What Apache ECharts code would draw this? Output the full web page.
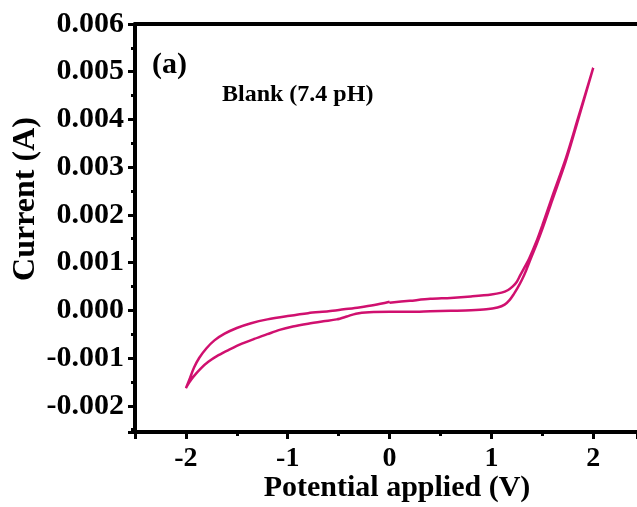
<!DOCTYPE html>
<html>
<head>
<meta charset="utf-8">
<title>Blank CV</title>
<script src="https://cdn.jsdelivr.net/npm/echarts@6/dist/echarts.min.js"></script>
<style>
  html, body { margin: 0; padding: 0; background: #fff; }
  #main { width: 637px; height: 507px; }
</style>
</head>
<body>
<div id="main"></div>
<script>
// scan order: 0 V -> +2 V (forward), +2 V -> -2 V (reverse), -2 V -> 0 V
var potential = [
  0.00, 0.20, 0.40, 0.60, 0.80, 1.00, 1.10, 1.16, 1.21, 1.25, 1.28, 1.32, 1.37, 1.44, 1.50, 1.60, 1.73, 1.85, 2.00,
  1.85, 1.73, 1.60, 1.50, 1.44, 1.39, 1.34, 1.30, 1.26, 1.22, 1.18, 1.13, 1.06, 0.95, 0.80, 0.60, 0.40, 0.20, 0.00,
  -0.20, -0.33, -0.42, -0.52, -0.65, -0.80, -0.95, -1.08, -1.20, -1.33, -1.45, -1.57, -1.68, -1.78, -1.86, -1.93, -1.97, -2.00,
  -1.96, -1.92, -1.87, -1.80, -1.72, -1.62, -1.50, -1.36, -1.20, -1.00, -0.80, -0.60, -0.45, -0.30, -0.15, 0.00
];
var current = [
  0.00016, 0.00020, 0.00024, 0.00026, 0.00029, 0.00033, 0.00037, 0.00042, 0.00050, 0.00060, 0.00072, 0.00088, 0.00108, 0.00143, 0.00178, 0.00240, 0.00318, 0.00402, 0.00508,
  0.00398, 0.00312, 0.00232, 0.00170, 0.00136, 0.00110, 0.00083, 0.00064, 0.00048, 0.00034, 0.00022, 0.00012, 0.00006, 0.00002, 0.00000, -0.00001, -0.00002, -0.00003, -0.00003,
  -0.00004, -0.00007, -0.00013, -0.00019, -0.00023, -0.00028, -0.00034, -0.00041, -0.00050, -0.00060, -0.00070, -0.00082, -0.00094, -0.00108, -0.00123, -0.00140, -0.00152, -0.00163,
  -0.00142, -0.00120, -0.00100, -0.00080, -0.00063, -0.00049, -0.00037, -0.00027, -0.00019, -0.00012, -0.00006, -0.00002, 0.00002, 0.00006, 0.00011, 0.00018
];

var xTitle = 'Potential applied (V)';
var yTitle = 'Current (A)';
var panelLabel = '(a)';
var sampleLabel = 'Blank (7.4 pH)';

var serif = "'Times New Roman', 'Liberation Serif', serif";

var points = [];
for (var i = 0; i < potential.length; i++) {
  points.push([potential[i], current[i]]);
}

var chart = echarts.init(document.getElementById('main'), null, { renderer: 'canvas' });

var option = {
  backgroundColor: '#fff',
  animation: false,
  grid: {
    left: 135,
    top: 24,
    right: 0,
    height: 408,
    show: false
  },
  xAxis: [{
    type: 'value',
    min: -2.5,
    max: 2.43,
    splitNumber: 5,
    axisLine: { onZero: false, lineStyle: { color: '#000', width: 4 } },
    axisTick: { show: true, inside: false, length: 7, lineStyle: { color: '#000', width: 3 } },
    minorTick: { show: true, splitNumber: 2, length: 4, lineStyle: { color: '#000', width: 3 } },
    splitLine: { show: false },
    axisLabel: {
      showMinLabel: false,
      showMaxLabel: false,
      margin: 13,
      color: '#000',
      fontFamily: serif,
      fontWeight: 'bold',
      fontSize: 28
    }
  }, {
    // top frame line
    type: 'value',
    position: 'top',
    min: -2.5,
    max: 2.43,
    axisLine: { show: true, onZero: false, lineStyle: { color: '#000', width: 4 } },
    axisTick: { show: false },
    axisLabel: { show: false },
    splitLine: { show: false }
  }],
  yAxis: {
    type: 'value',
    min: -0.00255,
    max: 0.006,
    splitNumber: 8,
    axisLine: { onZero: false, lineStyle: { color: '#000', width: 4 } },
    axisTick: { show: true, inside: false, length: 7, lineStyle: { color: '#000', width: 3 } },
    minorTick: { show: true, splitNumber: 2, length: 4, lineStyle: { color: '#000', width: 3 } },
    splitLine: { show: false },
    axisLabel: {
      showMinLabel: false,
      margin: 11,
      color: '#000',
      fontFamily: serif,
      fontWeight: 'bold',
      fontSize: 30,
      formatter: function (v) { return v.toFixed(3); }
    }
  },
  graphic: [
    {
      type: 'text', x: 26, y: 199, rotation: Math.PI / 2,
      style: { text: yTitle, align: 'center', verticalAlign: 'middle', fill: '#000',
               font: 'bold 32px ' + serif }
    },
    {
      type: 'text', x: 397, y: 488,
      style: { text: xTitle, align: 'center', verticalAlign: 'middle', fill: '#000',
               font: 'bold 30px ' + serif }
    },
    {
      type: 'text', x: 152, y: 65,
      style: { text: panelLabel, align: 'left', verticalAlign: 'middle', fill: '#000',
               font: 'bold 30px ' + serif }
    },
    {
      type: 'text', x: 222, y: 95,
      style: { text: sampleLabel, align: 'left', verticalAlign: 'middle', fill: '#000',
               font: 'bold 24px ' + serif }
    }
  ],
  series: [{
    name: 'Blank',
    type: 'line',
    data: points,
    showSymbol: false,
    smooth: 0.3,
    clip: true,
    lineStyle: { color: '#d0106f', width: 2.5 }
  }]
};

chart.setOption(option);
</script>
</body>
</html>
